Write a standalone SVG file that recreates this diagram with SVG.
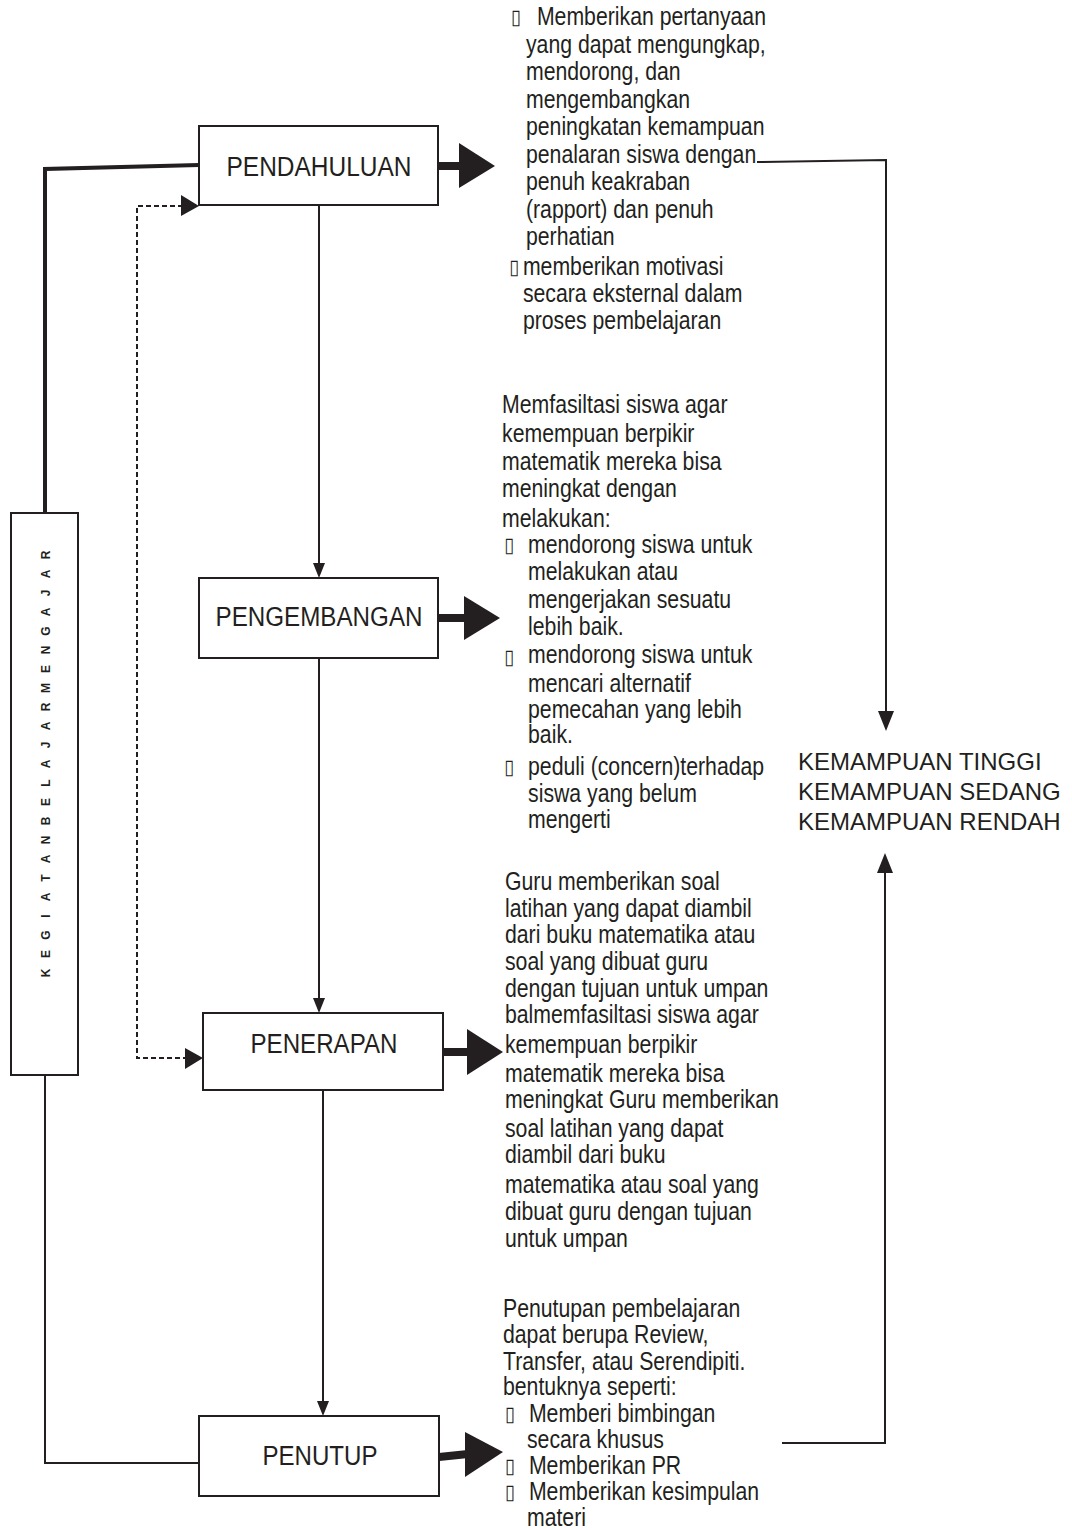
<svg xmlns="http://www.w3.org/2000/svg" width="1072" height="1530" viewBox="0 0 1072 1530">
<style>
.box{fill:#fff;stroke:#231f20;stroke-width:2}
.lbl{font-family:"Liberation Sans",Arial,sans-serif;font-size:27px;fill:#231f20;text-anchor:middle}
.t{font-family:"Liberation Sans",Arial,sans-serif;font-size:25px;fill:#231f20}
.b{font-family:"DejaVu Sans","Liberation Sans",sans-serif;font-size:21px;fill:#231f20}
.k{font-family:"Liberation Sans",Arial,sans-serif;font-size:24px;fill:#231f20}
.v{font-family:"Liberation Sans",Arial,sans-serif;font-size:12px;font-weight:bold;fill:#231f20;text-anchor:middle}
.ln{fill:none;stroke:#231f20;stroke-width:2}
.thick{fill:none;stroke:#231f20;stroke-width:4}
.dash{fill:none;stroke:#231f20;stroke-width:2;stroke-dasharray:5 3}
.head{fill:#231f20}
</style>
<rect width="1072" height="1530" fill="#fff"/>

<g id="connectors">
  <path class="thick" d="M45,513 V169 L199,165"/>
  <path class="ln" d="M45,1075 V1463 H199"/>
  <path class="dash" d="M183,206 H137 V1058 H187"/>
  <polygon class="head" points="181,195 199,206 181,216"/>
  <polygon class="head" points="185,1048 203,1058 185,1069"/>
  <line class="ln" x1="319" y1="205" x2="319" y2="565"/>
  <polygon class="head" points="313,563 325,563 319,578"/>
  <line class="ln" x1="319" y1="658" x2="319" y2="1000"/>
  <polygon class="head" points="313,998 325,998 319,1013"/>
  <line class="ln" x1="323" y1="1090" x2="323" y2="1403"/>
  <polygon class="head" points="317,1401 329,1401 323,1416"/>
  <line x1="438" y1="166" x2="462" y2="166" stroke="#231f20" stroke-width="8"/>
  <polygon class="head" points="459,143 495,166 459,188"/>
  <line x1="438" y1="618" x2="467" y2="618" stroke="#231f20" stroke-width="8"/>
  <polygon class="head" points="464,596 500,618 464,640"/>
  <line x1="443" y1="1052" x2="470" y2="1052" stroke="#231f20" stroke-width="8"/>
  <polygon class="head" points="467,1029 503,1052 467,1075"/>
  <line x1="439" y1="1457" x2="468" y2="1454" stroke="#231f20" stroke-width="8"/>
  <polygon class="head" points="465,1432 503,1452 465,1477"/>
  <path class="ln" d="M757,162 L886,160 V712"/>
  <polygon class="head" points="878,711 894,711 886,731"/>
  <path class="ln" d="M782,1443 H885 V872"/>
  <polygon class="head" points="877,873 893,873 885,853"/>
</g>

<g id="side">
  <rect class="box" x="11" y="513" width="67" height="562"/>
  <text class="v" transform="translate(50,0) rotate(-90)" x="-973 -954 -935 -916 -897 -878 -859 -840 -830 -821 -802 -783 -764 -745 -726 -707 -698 -688 -669 -650 -631 -612 -593 -574 -555" y="0">KEGIATAN BELAJAR MENGAJAR</text>
</g>

<g id="pendahuluan">
  <rect class="box" x="199" y="126" width="239" height="79"/>
  <text class="lbl" x="319" y="176" textLength="185" lengthAdjust="spacingAndGlyphs">PENDAHULUAN</text>
</g>
<g id="pengembangan">
  <rect class="box" x="199" y="578" width="239" height="80"/>
  <text class="lbl" x="319" y="626" textLength="207" lengthAdjust="spacingAndGlyphs">PENGEMBANGAN</text>
</g>
<g id="penerapan">
  <rect class="box" x="203" y="1013" width="240" height="77"/>
  <text class="lbl" x="324" y="1053" textLength="147" lengthAdjust="spacingAndGlyphs">PENERAPAN</text>
</g>
<g id="penutup">
  <rect class="box" x="199" y="1416" width="240" height="80"/>
  <text class="lbl" x="320" y="1465" textLength="115" lengthAdjust="spacingAndGlyphs">PENUTUP</text>
</g>

<g id="text-pendahuluan" transform="translate(511,0) scale(0.85,1)">
  <text class="b" x="0" y="24">▯</text>
  <text class="t" x="30.5" y="25">Memberikan pertanyaan</text>
  <text class="t" x="17.6" y="53">yang dapat mengungkap,</text>
  <text class="t" x="17.6" y="80">mendorong, dan</text>
  <text class="t" x="17.6" y="108">mengembangkan</text>
  <text class="t" x="17.6" y="135">peningkatan kemampuan</text>
  <text class="t" x="17.6" y="163">penalaran siswa dengan</text>
  <text class="t" x="17.6" y="190">penuh keakraban</text>
  <text class="t" x="17.6" y="218">(rapport) dan penuh</text>
  <text class="t" x="17.6" y="245">perhatian</text>
  <text class="b" x="-2" y="274">▯</text>
  <text class="t" x="14" y="275">memberikan motivasi</text>
  <text class="t" x="14" y="302">secara eksternal dalam</text>
  <text class="t" x="14" y="329">proses pembelajaran</text>
</g>

<g id="text-pengembangan" transform="translate(500,0) scale(0.85,1)">
  <text class="t" x="2.4" y="413">Memfasiltasi siswa agar</text>
  <text class="t" x="2.4" y="442">kemempuan berpikir</text>
  <text class="t" x="2.4" y="470">matematik mereka bisa</text>
  <text class="t" x="2.4" y="497">meningkat dengan</text>
  <text class="t" x="2.4" y="527">melakukan:</text>
  <text class="b" x="5" y="552">▯</text>
  <text class="t" x="33" y="553">mendorong siswa untuk</text>
  <text class="t" x="33" y="580">melakukan atau</text>
  <text class="t" x="33" y="608">mengerjakan sesuatu</text>
  <text class="t" x="33" y="635">lebih baik.</text>
  <text class="b" x="5" y="664">▯</text>
  <text class="t" x="33" y="663">mendorong siswa untuk</text>
  <text class="t" x="33" y="692">mencari alternatif</text>
  <text class="t" x="33" y="718">pemecahan yang lebih</text>
  <text class="t" x="33" y="743">baik.</text>
  <text class="b" x="5" y="774">▯</text>
  <text class="t" x="33" y="775">peduli (concern)terhadap</text>
  <text class="t" x="33" y="802">siswa yang belum</text>
  <text class="t" x="33" y="828">mengerti</text>
</g>

<g id="text-penerapan" transform="translate(505,0) scale(0.85,1)">
  <text class="t" x="0" y="890">Guru memberikan soal</text>
  <text class="t" x="0" y="917">latihan yang dapat diambil</text>
  <text class="t" x="0" y="943">dari buku matematika atau</text>
  <text class="t" x="0" y="970">soal yang dibuat guru</text>
  <text class="t" x="0" y="997">dengan tujuan untuk umpan</text>
  <text class="t" x="0" y="1023">balmemfasiltasi siswa agar</text>
  <text class="t" x="0" y="1053">kemempuan berpikir</text>
  <text class="t" x="0" y="1082">matematik mereka bisa</text>
  <text class="t" x="0" y="1108">meningkat Guru memberikan</text>
  <text class="t" x="0" y="1137">soal latihan yang dapat</text>
  <text class="t" x="0" y="1163">diambil dari buku</text>
  <text class="t" x="0" y="1193">matematika atau soal yang</text>
  <text class="t" x="0" y="1220">dibuat guru dengan tujuan</text>
  <text class="t" x="0" y="1247">untuk umpan</text>
</g>

<g id="text-penutup" transform="translate(503,0) scale(0.85,1)">
  <text class="t" x="0" y="1317">Penutupan pembelajaran</text>
  <text class="t" x="0" y="1343">dapat berupa Review,</text>
  <text class="t" x="0" y="1370">Transfer, atau Serendipiti.</text>
  <text class="t" x="0" y="1395">bentuknya seperti:</text>
  <text class="b" x="2.4" y="1421">▯</text>
  <text class="t" x="30.5" y="1422">Memberi bimbingan</text>
  <text class="t" x="28.2" y="1448">secara khusus</text>
  <text class="b" x="2.4" y="1473">▯</text>
  <text class="t" x="30.5" y="1474">Memberikan PR</text>
  <text class="b" x="2.4" y="1499">▯</text>
  <text class="t" x="30.5" y="1500">Memberikan kesimpulan</text>
  <text class="t" x="28.2" y="1526">materi</text>
</g>

<g id="kemampuan">
  <text class="k" x="798" y="770">KEMAMPUAN TINGGI</text>
  <text class="k" x="798" y="800">KEMAMPUAN SEDANG</text>
  <text class="k" x="798" y="830">KEMAMPUAN RENDAH</text>
</g>
</svg>
